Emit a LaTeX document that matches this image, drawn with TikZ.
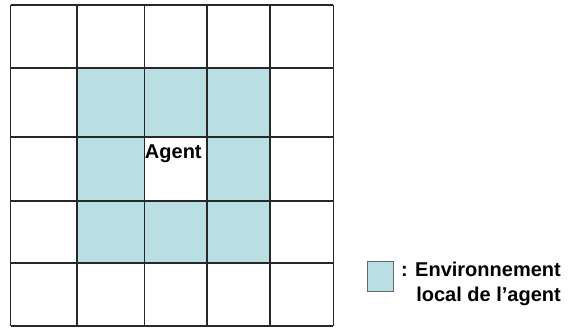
\documentclass[tikz,border=0pt]{standalone}
\usepackage{fontspec}
\setmainfont{Liberation Sans}
\definecolor{envteal}{RGB}{186,223,226}
\definecolor{gridline}{RGB}{40,40,40}
\begin{document}
\begin{tikzpicture}[x=1pt,y=-1pt,
  gridstyle/.style={draw=gridline,line width=1.6pt},
  lbl/.style={inner sep=0pt,font=\fontsize{20}{24}\selectfont\bfseries}]
\useasboundingbox (0,0) rectangle (569,327);
% local environment cells
\fill[envteal] (77,67.7) rectangle (270,262.7);
\fill[white] (144.3,136.7) rectangle (206.7,200.8);
% grid
\foreach \x in {10.5,77,144.3,206.7,270,333.3}
  \draw[gridstyle] (\x,5) -- (\x,326);
\foreach \y in {5,67.7,136.7,200.8,262.7,326}
  \draw[gridstyle] (10.5,\y) -- (333.3,\y);
\node[lbl,anchor=base] (agent) at (173.3,158) {Agent};
% legend
\node[draw=gridline!70,line width=1pt,fill=envteal,minimum width=26pt,minimum height=30pt,inner sep=0pt] (legbox) at (380,276) {};
\node[lbl,anchor=base east] (leg1) at (561,276.7) {: Environnement};
\node[lbl,anchor=base east] (leg2) at (561,301.7) {local de l’agent};
\end{tikzpicture}
\end{document}
